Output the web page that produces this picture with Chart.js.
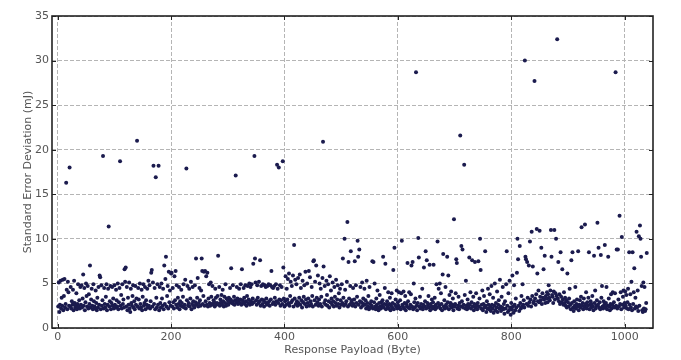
<!DOCTYPE html>
<html>
<head>
<meta charset="utf-8">
<title>Standard Error Deviation vs Response Payload</title>
<script src="https://cdn.jsdelivr.net/npm/chart.js@4/dist/chart.umd.min.js"></script>
<style>
  html, body { margin: 0; padding: 0; background: #fff; }
  #chart { display: block; }
</style>
</head>
<body>
<canvas id="chart" width="681" height="360"></canvas>
<script>
// Payload sizes are swept one byte at a time, starting here
const firstPayload = 1;

// Standard error deviation (mJ), one value per payload size
const deviation = [
  2.4, 5.1, 1.8, 2.6, 5.3, 2.2, 3.4, 2.5, 5.4, 2.0, 3.6, 5.5, 2.3, 2.7, 16.3, 4.3, 2.1, 5.2, 4.0, 2.5,
  18.0, 2.4, 4.6, 2.2, 3.0, 2.6, 4.3, 2.0, 5.3, 2.8, 2.3, 2.5, 3.9, 2.1, 2.7, 4.9, 2.4, 3.1, 2.2, 4.6,
  2.6, 4.8, 2.3, 3.3, 6.0, 2.5, 4.5, 2.0, 2.9, 5.0, 3.6, 2.4, 4.7, 2.2, 3.8, 2.7, 7.0, 2.3, 3.2, 4.4,
  2.5, 2.1, 4.9, 3.0, 2.4, 2.2, 4.2, 2.8, 2.0, 3.4, 2.3, 4.6, 2.6, 5.9, 5.7, 2.1, 4.8, 2.5, 3.1, 19.3,
  2.2, 4.5, 2.7, 2.3, 3.5, 4.9, 2.0, 2.6, 4.4, 11.4, 2.4, 3.0, 4.7, 2.1, 2.8, 4.6, 2.5, 3.3, 2.2, 4.8,
  2.6, 2.3, 4.3, 3.1, 2.4, 5.0, 2.1, 2.9, 4.5, 18.7, 2.5, 3.7, 2.2, 4.9, 2.7, 3.2, 2.3, 6.6, 5.2, 6.8,
  2.4, 4.6, 2.0, 3.4, 2.6, 5.1, 2.2, 1.8, 4.4, 2.8, 2.5, 3.6, 4.8, 2.3, 3.0, 2.1, 4.7, 2.6, 3.3, 21.0,
  2.4, 4.5, 3.2, 2.2, 5.0, 2.7, 2.3, 4.3, 2.0, 3.5, 4.9, 2.5, 2.8, 4.6, 2.1, 3.1, 2.6, 4.4, 2.3, 5.3,
  2.5, 4.8, 2.2, 3.0, 6.2, 6.5, 2.4, 5.1, 18.2, 2.7, 4.5, 2.1, 16.9, 3.4, 2.3, 4.9, 2.6, 18.2, 2.0, 4.6,
  2.8, 2.3, 5.0, 3.3, 2.5, 4.4, 2.1, 7.0, 2.7, 5.5, 8.0, 2.4, 3.6, 4.7, 2.2, 6.3, 2.9, 4.2, 2.5, 6.1,
  6.2, 2.4, 4.5, 2.9, 2.2, 5.8, 3.1, 6.4, 2.6, 4.8, 2.3, 3.4, 2.7, 4.6, 2.1, 3.0, 2.5, 4.3, 2.8, 2.4,
  3.5, 4.9, 2.3, 2.6, 5.4, 2.2, 17.9, 3.1, 4.7, 2.5, 2.8, 4.4, 2.4, 3.3, 5.2, 2.1, 2.7, 4.6, 3.0, 2.5,
  2.3, 4.8, 2.9, 7.8, 2.6, 3.4, 5.6, 2.4, 2.8, 4.5, 3.1, 2.5, 4.2, 7.8, 6.4, 2.7, 3.6, 6.3, 2.5, 6.4,
  3.0, 5.8, 2.6, 6.2, 2.4, 3.3, 4.9, 2.8, 2.5, 5.1, 3.5, 2.7, 4.7, 2.6, 3.1, 2.9, 2.4, 4.4, 3.4, 2.6,
  2.8, 3.6, 8.1, 2.7, 4.6, 2.5, 3.2, 2.9, 3.7, 2.6, 4.3, 3.0, 2.4, 3.5, 2.8, 4.9, 2.5, 3.3, 2.7, 3.1,
  2.6, 3.4, 2.9, 4.5, 3.2, 6.7, 2.8, 3.0, 4.8, 2.7, 3.5, 2.6, 3.1, 17.1, 2.9, 4.6, 3.3, 2.7, 3.0, 4.4,
  2.8, 3.2, 4.9, 2.6, 6.6, 3.1, 2.9, 4.5, 3.4, 2.7, 4.8, 3.0, 2.5, 3.6, 4.7, 2.8, 3.2, 5.0, 2.6, 4.6,
  3.0, 4.9, 2.7, 3.3, 7.2, 2.9, 19.3, 7.8, 5.1, 3.1, 2.6, 4.8, 3.4, 2.8, 5.2, 3.0, 7.6, 2.5, 4.7, 3.2,
  2.7, 4.9, 3.1, 2.4, 4.8, 2.9, 4.6, 3.3, 2.6, 4.7, 2.8, 4.9, 3.0, 2.5, 4.8, 3.2, 6.4, 4.6, 2.7, 4.5,
  2.9, 4.7, 3.4, 2.6, 4.9, 3.0, 18.3, 4.4, 2.8, 18.0, 3.2, 4.8, 2.5, 3.1, 4.6, 2.7, 18.7, 6.8, 3.3, 2.4,
  3.0, 5.8, 2.6, 4.4, 3.2, 5.5, 2.8, 6.1, 2.5, 3.6, 5.2, 2.9, 4.7, 3.1, 5.9, 2.4, 9.3, 3.3, 5.4, 2.7,
  4.9, 3.0, 2.5, 5.6, 2.8, 3.4, 6.0, 2.6, 4.5, 3.1, 2.3, 5.3, 2.9, 3.5, 4.8, 2.7, 6.3, 3.2, 2.4, 5.0,
  2.8, 3.3, 6.4, 2.5, 5.7, 3.0, 2.7, 4.6, 3.6, 2.4, 7.5, 7.6, 3.1, 5.2, 2.6, 7.0, 3.4, 2.9, 5.9, 2.5,
  3.2, 5.0, 2.7, 4.4, 3.5, 2.4, 5.6, 20.9, 6.9, 2.8, 4.7, 3.1, 2.6, 5.3, 3.7, 2.5, 4.9, 3.0, 2.3, 5.8,
  2.9, 4.2, 3.3, 2.6, 5.1, 3.0, 2.4, 4.6, 3.5, 2.8, 5.4, 2.5, 3.2, 4.8, 2.7, 3.9, 2.3, 4.4, 3.1, 2.6,
  4.9, 2.8, 7.8, 3.4, 2.5, 10.0, 4.3, 2.7, 3.0, 5.2, 11.9, 2.4, 7.4, 3.3, 2.6, 4.7, 8.6, 2.9, 3.1, 2.5,
  4.5, 2.7, 3.2, 7.5, 2.4, 4.8, 2.8, 3.5, 9.8, 8.0, 2.6, 8.8, 3.0, 4.6, 2.3, 2.9, 5.1, 2.5, 3.3, 2.7,
  4.4, 2.6, 3.1, 2.2, 5.3, 2.8, 2.4, 3.6, 2.1, 4.6, 2.7, 2.3, 3.0, 2.5, 7.5, 2.2, 7.4, 2.9, 5.0, 2.4,
  2.1, 3.3, 2.6, 4.2, 2.3, 2.0, 2.8, 3.7, 2.4, 2.2, 2.9, 2.5, 3.1, 8.0, 2.3, 2.7, 4.5, 7.2, 2.1, 2.6,
  3.0, 2.4, 4.0, 2.2, 2.7, 3.4, 2.0, 2.5, 3.9, 2.3, 2.8, 6.5, 2.1, 9.0, 2.6, 3.2, 2.4, 4.2, 2.2, 2.9,
  2.5, 4.0, 2.3, 3.1, 2.1, 3.9, 9.8, 2.6, 2.4, 4.1, 2.2, 2.8, 3.6, 2.0, 2.7, 2.4, 7.3, 3.0, 2.3, 4.0,
  2.2, 2.6, 3.8, 7.0, 2.4, 7.4, 2.1, 5.0, 2.9, 2.3, 3.3, 28.7, 2.5, 2.0, 2.8, 10.1, 7.9, 2.4, 3.5, 2.2,
  2.7, 2.3, 4.4, 2.1, 2.6, 6.8, 2.4, 3.0, 8.6, 2.2, 7.6, 2.8, 2.5, 3.6, 2.3, 7.1, 2.0, 2.7, 2.4, 3.2,
  2.2, 2.9, 7.1, 2.4, 3.4, 2.1, 2.6, 4.9, 2.3, 9.7, 2.8, 4.4, 2.5, 5.0, 2.2, 3.9, 2.7, 2.0, 6.0, 8.3,
  2.4, 3.1, 2.2, 4.6, 2.6, 2.3, 8.0, 2.9, 5.9, 2.1, 3.7, 2.5, 2.8, 4.1, 2.3, 2.6, 3.3, 2.0, 12.2, 2.4,
  2.7, 3.9, 7.7, 7.3, 2.2, 2.5, 3.5, 2.1, 2.8, 21.6, 2.4, 9.2, 3.0, 8.8, 2.3, 2.6, 18.3, 3.7, 2.2, 5.3,
  2.5, 2.1, 3.2, 2.7, 2.3, 7.9, 2.6, 4.0, 2.2, 2.9, 7.6, 2.4, 3.5, 2.0, 2.7, 7.4, 2.3, 3.9, 2.5, 2.1,
  2.8, 7.5, 2.4, 3.3, 10.0, 6.5, 2.2, 2.6, 4.2, 2.0, 2.7, 3.6, 2.3, 8.6, 2.5, 1.8, 3.0, 2.2, 4.4, 2.6,
  2.1, 3.8, 2.4, 1.9, 4.7, 2.6, 2.2, 3.4, 1.7, 2.5, 5.0, 2.0, 2.8, 2.3, 4.1, 1.8, 2.6, 3.1, 2.2, 5.4,
  2.4, 1.9, 3.5, 2.3, 4.6, 2.1, 2.7, 1.6, 3.0, 2.2, 4.9, 8.6, 2.5, 1.8, 3.9, 2.0, 5.3, 2.3, 1.5, 2.8,
  2.1, 5.9, 2.4, 1.7, 4.8, 2.6, 2.0, 3.3, 2.3, 6.2, 10.0, 7.7, 2.5, 1.9, 9.2, 2.8, 2.2, 3.6, 2.4, 4.9,
  2.6, 3.1, 2.3, 30.0, 8.0, 7.7, 2.7, 7.4, 3.4, 2.5, 7.0, 2.9, 9.7, 3.2, 2.4, 10.8, 3.6, 6.9, 2.8, 3.0,
  27.7, 3.3, 2.6, 3.8, 11.1, 6.1, 3.0, 4.2, 2.9, 10.9, 3.5, 3.1, 9.0, 2.7, 3.9, 3.4, 6.6, 3.2, 8.1, 2.8,
  3.6, 3.3, 4.0, 2.9, 3.8, 4.8, 3.4, 3.1, 4.2, 11.0, 8.0, 3.7, 3.5, 2.8, 4.1, 11.0, 3.2, 3.9, 10.0, 3.6,
  32.4, 3.3, 7.4, 3.0, 3.8, 2.7, 8.5, 3.5, 2.9, 6.6, 3.2, 2.6, 4.0, 2.8, 3.4, 2.5, 3.1, 2.3, 6.1, 2.9,
  2.4, 3.3, 4.4, 2.6, 2.1, 7.6, 2.8, 8.5, 2.3, 1.9, 3.0, 2.5, 4.6, 2.2, 2.7, 3.2, 2.4, 8.6, 2.0, 2.6,
  3.1, 2.3, 3.5, 11.3, 2.5, 2.8, 2.1, 3.3, 2.4, 11.6, 2.7, 4.0, 2.2, 2.9, 2.5, 3.4, 8.5, 2.1, 2.6, 3.0,
  2.3, 2.7, 3.6, 2.4, 2.0, 8.1, 2.8, 4.2, 2.2, 2.5, 3.1, 11.8, 2.6, 9.0, 2.3, 2.9, 2.1, 8.2, 3.4, 4.7,
  2.4, 2.2, 3.0, 2.6, 9.3, 2.3, 2.8, 4.6, 2.1, 2.5, 8.0, 3.3, 2.4, 2.0, 2.7, 3.8, 2.2, 2.6, 4.0, 2.4,
  2.9, 2.3, 3.9, 28.7, 2.5, 8.8, 2.2, 8.8, 3.2, 2.4, 12.6, 2.7, 4.0, 2.1, 10.2, 2.6, 3.5, 4.2, 2.3, 2.8,
  4.1, 2.5, 3.7, 2.2, 2.9, 4.4, 2.1, 8.5, 2.6, 3.8, 2.3, 5.2, 2.0, 8.5, 2.7, 4.0, 6.7, 2.2, 3.4, 2.4,
  10.8, 2.3, 4.2, 1.9, 10.3, 2.5, 11.5, 10.0, 8.0, 4.7, 2.0, 1.8, 5.1, 2.2, 4.6, 1.9, 2.1, 2.8, 8.4
];

const xTicks = [0, 200, 400, 600, 800, 1000];
const yTicks = [0, 5, 10, 15, 20, 25, 30, 35];

const points = deviation.map((v, i) => ({ x: firstPayload + i, y: v }));

// Matplotlib-style frame with tick marks pointing inwards on all four sides
const framePlugin = {
  id: 'frame',
  afterDraw(chart) {
    const { ctx, chartArea: a, scales } = chart;
    ctx.save();
    ctx.strokeStyle = '#222';
    ctx.lineWidth = 1;
    ctx.beginPath();
    xTicks.forEach(t => {
      const px = Math.round(scales.x.getPixelForValue(t)) + 0.5;
      ctx.moveTo(px, a.bottom); ctx.lineTo(px, a.bottom - 4);
      ctx.moveTo(px, a.top); ctx.lineTo(px, a.top + 4);
    });
    yTicks.forEach(t => {
      const py = Math.round(scales.y.getPixelForValue(t)) + 0.5;
      ctx.moveTo(a.left, py); ctx.lineTo(a.left + 4, py);
      ctx.moveTo(a.right, py); ctx.lineTo(a.right - 4, py);
    });
    ctx.stroke();
    ctx.lineWidth = 1.6;
    ctx.strokeRect(a.left, a.top, a.right - a.left, a.bottom - a.top);
    ctx.restore();
  }
};

const tickFont = { family: 'DejaVu Sans', size: 11 };
const gridStyle = { color: '#b5b5b5', lineWidth: 1, drawTicks: false };

new Chart(document.getElementById('chart'), {
  type: 'scatter',
  data: {
    datasets: [{
      data: points,
      backgroundColor: '#1b1b4e',
      borderWidth: 0,
      pointRadius: 2,
      pointHoverRadius: 2,
    }],
  },
  options: {
    responsive: false,
    devicePixelRatio: 1,
    animation: false,
    layout: { padding: { left: 0, top: 16, right: 28, bottom: 0 } },
    plugins: {
      legend: { display: false },
      tooltip: { enabled: false },
    },
    scales: {
      x: {
        type: 'linear',
        min: -10,
        max: 1050,
        afterBuildTicks: s => { s.ticks = xTicks.map(v => ({ value: v })); },
        afterFit: s => { s.height = 32; },
        ticks: { color: '#555', font: tickFont, padding: 3, maxRotation: 0, callback: v => String(v) },
        grid: gridStyle,
        border: { display: false, dash: [4, 2] },
        title: {
          display: true,
          text: 'Response Payload (Byte)',
          color: '#555',
          font: tickFont,
          padding: { top: 0, bottom: 3 },
        },
      },
      y: {
        min: 0,
        max: 35,
        afterBuildTicks: s => { s.ticks = yTicks.map(v => ({ value: v })); },
        afterFit: s => { s.width = 52; },
        ticks: { color: '#555', font: tickFont, padding: 3, callback: v => String(v) },
        grid: gridStyle,
        border: { display: false, dash: [4, 2] },
        title: {
          display: true,
          text: 'Standard Error Deviation (mJ)',
          color: '#555',
          font: tickFont,
          padding: { top: 22, bottom: 0 },
        },
      },
    },
  },
  plugins: [framePlugin],
});
</script>
</body>
</html>
